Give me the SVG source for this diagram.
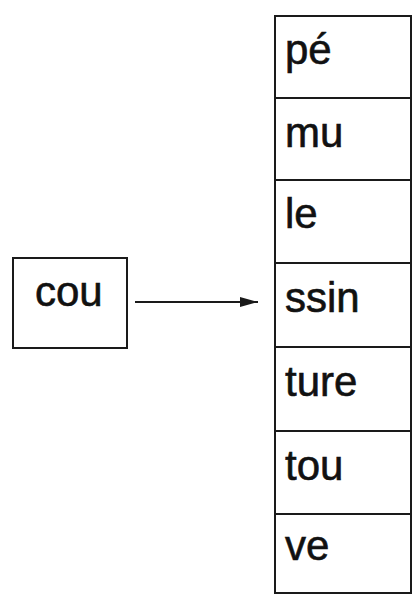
<svg xmlns="http://www.w3.org/2000/svg" width="414" height="596" viewBox="0 0 414 596">
<style>
.box{fill:#fff;stroke:#1a1a1a;stroke-width:2}
.t{font-family:"Liberation Sans",Arial,sans-serif;font-size:42px;fill:#111;stroke:#111;stroke-width:0.6}
.c{stroke:#1a1a1a;stroke-width:2;fill:none}
</style>
<defs>
<marker id="ah" markerWidth="18" markerHeight="10" refX="18" refY="5" orient="auto" markerUnits="userSpaceOnUse">
<path d="M0,0 L18,5 L0,10 Z" fill="#1a1a1a"/>
</marker>
</defs>
<rect width="414" height="596" fill="#fff"/>
<g id="cou"><rect class="box" x="13" y="258" width="114" height="90"/><text class="t" x="35" y="306">cou</text></g>
<g id="r1"><rect class="box" x="275" y="16" width="136" height="82"/><text class="t" x="285" y="64">pé</text></g>
<g id="r2"><rect class="box" x="275" y="98" width="136" height="82"/><text class="t" x="285" y="147">mu</text></g>
<g id="r3"><rect class="box" x="275" y="180" width="136" height="83"/><text class="t" x="285" y="228">le</text></g>
<g id="r4"><rect class="box" x="275" y="263" width="136" height="84"/><text class="t" x="285" y="312">ssin</text></g>
<g id="r5"><rect class="box" x="275" y="347" width="136" height="84"/><text class="t" x="285" y="396">ture</text></g>
<g id="r6"><rect class="box" x="275" y="431" width="136" height="83"/><text class="t" x="285" y="480">tou</text></g>
<g id="r7"><rect class="box" x="275" y="514" width="136" height="79"/><text class="t" x="285" y="560">ve</text></g>
<g id="connectors"><line class="c" x1="135" y1="302" x2="258" y2="302" marker-end="url(#ah)"/></g>
</svg>
